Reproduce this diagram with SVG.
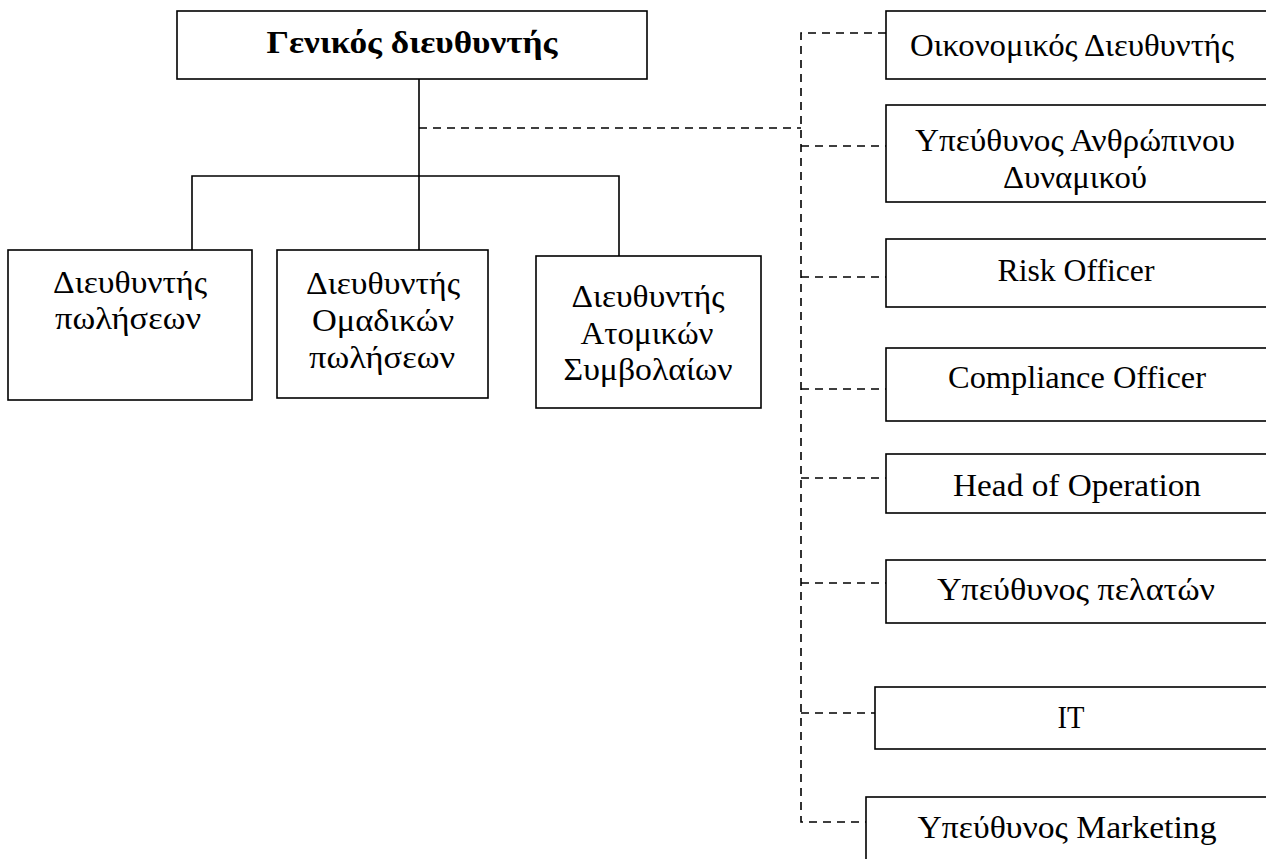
<svg xmlns="http://www.w3.org/2000/svg" width="1266" height="859" viewBox="0 0 1266 859">
<style>
.box{fill:#fff;stroke:#000;stroke-width:1.6}
.t{font-family:"Liberation Serif","DejaVu Serif",serif;font-size:32px;fill:#000;text-anchor:middle}
.b{font-weight:bold}
.solid{fill:none;stroke:#000;stroke-width:1.6}
.dash{fill:none;stroke:#000;stroke-width:1.6;stroke-dasharray:8,6}
</style>
<rect width="1266" height="859" fill="#fff"/>
<g id="connectors">
<path class="solid" d="M419,79 V250 M192,250 V176 H619 V256"/>
<path class="dash" d="M419,128 H801"/>
<path class="dash" d="M886,33 H801 V822 H866"/>
<path class="dash" d="M801,146 H886 M801,277 H886 M801,389 H886 M801,478 H886 M801,583 H886 M801,713 H875"/>
</g>
<g id="n-gm"><rect class="box" x="177" y="11" width="470" height="68"/><text class="t b" x="412" y="53" textLength="291" lengthAdjust="spacingAndGlyphs">Γενικός διευθυντής</text></g>
<g id="n-sales"><rect class="box" x="8" y="250" width="244" height="150"/><text class="t" x="130" y="293" textLength="154" lengthAdjust="spacingAndGlyphs">Διευθυντής</text><text class="t" x="128" y="329" textLength="146" lengthAdjust="spacingAndGlyphs">πωλήσεων</text></g>
<g id="n-group"><rect class="box" x="277" y="250" width="211" height="148"/><text class="t" x="383" y="294" textLength="154" lengthAdjust="spacingAndGlyphs">Διευθυντής</text><text class="t" x="383" y="331" textLength="142" lengthAdjust="spacingAndGlyphs">Ομαδικών</text><text class="t" x="382" y="368" textLength="146" lengthAdjust="spacingAndGlyphs">πωλήσεων</text></g>
<g id="n-indiv"><rect class="box" x="536" y="256" width="225" height="152"/><text class="t" x="648" y="307" textLength="153" lengthAdjust="spacingAndGlyphs">Διευθυντής</text><text class="t" x="647" y="344" textLength="133" lengthAdjust="spacingAndGlyphs">Ατομικών</text><text class="t" x="648" y="380" textLength="169" lengthAdjust="spacingAndGlyphs">Συμβολαίων</text></g>
<g id="n-cfo"><rect class="box" x="886" y="11" width="390" height="68"/><text class="t" x="1072" y="56" textLength="324" lengthAdjust="spacingAndGlyphs">Οικονομικός Διευθυντής</text></g>
<g id="n-hr"><rect class="box" x="886" y="105" width="390" height="97"/><text class="t" x="1075" y="151" textLength="320" lengthAdjust="spacingAndGlyphs">Υπεύθυνος Ανθρώπινου</text><text class="t" x="1075" y="188" textLength="144" lengthAdjust="spacingAndGlyphs">Δυναμικού</text></g>
<g id="n-risk"><rect class="box" x="886" y="239" width="390" height="68"/><text class="t" x="1076" y="281" textLength="157" lengthAdjust="spacingAndGlyphs">Risk Officer</text></g>
<g id="n-comp"><rect class="box" x="886" y="348" width="390" height="73"/><text class="t" x="1077" y="388" textLength="258" lengthAdjust="spacingAndGlyphs">Compliance Officer</text></g>
<g id="n-ops"><rect class="box" x="886" y="454" width="390" height="59"/><text class="t" x="1077" y="496" textLength="248" lengthAdjust="spacingAndGlyphs">Head of Operation</text></g>
<g id="n-cust"><rect class="box" x="886" y="560" width="390" height="63"/><text class="t" x="1076" y="600" textLength="278" lengthAdjust="spacingAndGlyphs">Υπεύθυνος πελατών</text></g>
<g id="n-it"><rect class="box" x="875" y="687" width="400" height="62"/><text class="t" x="1071" y="728" textLength="27" lengthAdjust="spacingAndGlyphs">IT</text></g>
<g id="n-mkt"><rect class="box" x="866" y="797" width="410" height="80"/><text class="t" x="1067" y="838" textLength="299" lengthAdjust="spacingAndGlyphs">Υπεύθυνος Marketing</text></g>
</svg>
